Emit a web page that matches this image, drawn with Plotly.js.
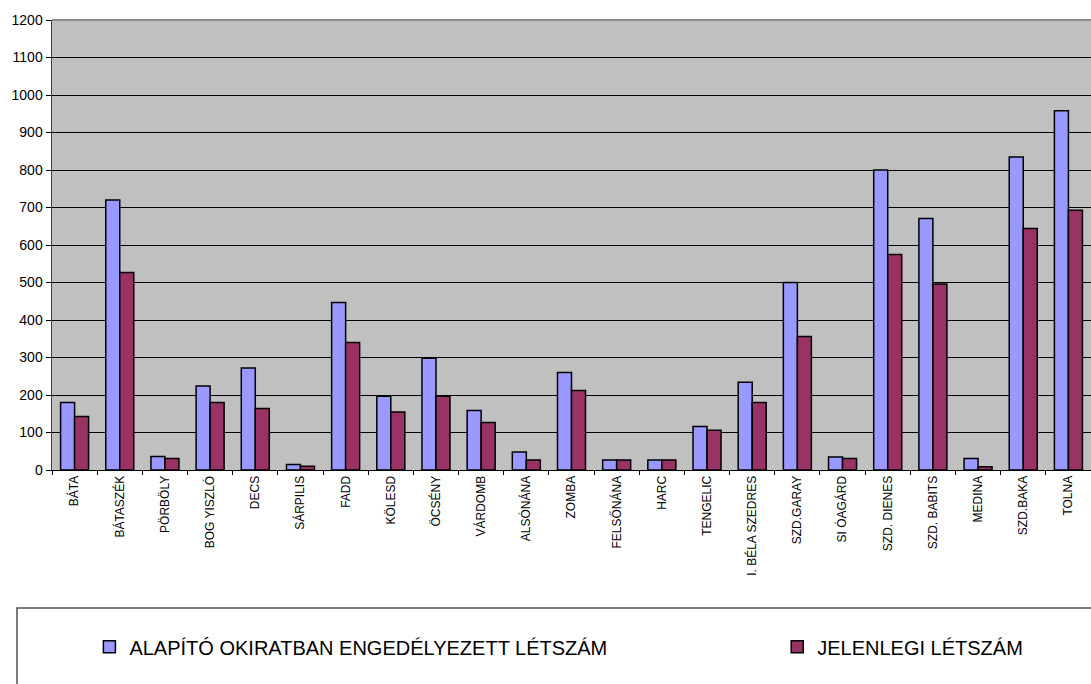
<!DOCTYPE html>
<html>
<head>
<meta charset="utf-8">
<script src="https://cdn.plot.ly/plotly-3.0.1.min.js"></script>
<style>
  html, body { margin: 0; padding: 0; background: #ffffff; }
  #chart { width: 1091px; height: 684px; }
</style>
</head>
<body>
<div id="chart"></div>
<script>
// Category labels (as printed on the chart)
const tickLabels = [
  "BÁTA", "BÁTASZÉK", "PÖRBÖLY", "BOG YISZLÓ", "DECS", "SÁRPILIS", "FADD",
  "KÖLESD", "ÖCSÉNY", "VÁRDOMB", "ALSÓNÁNA", "ZOMBA", "FELSŐNÁNA", "HARC",
  "TENGELIC", "I. BÉLA SZEDRES", "SZD.GARAY", "SI ÓAGÁRD", "SZD. DIENES",
  "SZD. BABITS", "MEDINA", "SZD.BAKA", "TOLNA"
];

const seriesNames = ["ALAPÍTÓ OKIRATBAN ENGEDÉLYEZETT LÉTSZÁM", "JELENLEGI LÉTSZÁM"];

// Series values
const alapitoValues = [180, 720, 36, 224, 272, 15, 447, 197, 298, 159, 48, 260, 27, 27,
  116, 234, 500, 35, 800, 671, 31, 835, 958];
const jelenlegiValues = [143, 527, 31, 180, 164, 10, 340, 155, 197, 127, 27, 212, 27, 27,
  106, 180, 356, 31, 575, 496, 9, 644, 693];

const yTicks = [0, 100, 200, 300, 400, 500, 600, 700, 800, 900, 1000, 1100, 1200];

const FONT = "'Liberation Sans', Arial, sans-serif";

const traces = [
  {
    type: "bar",
    name: seriesNames[0],
    x: tickLabels,
    y: alapitoValues,
    legend: "legend",
    marker: { color: "#9999FF", line: { color: "#000000", width: 1.5 } },
    hoverinfo: "x+y"
  },
  {
    type: "bar",
    name: seriesNames[1],
    x: tickLabels,
    y: jelenlegiValues,
    legend: "legend2",
    marker: { color: "#993366", line: { color: "#000000", width: 1.5 } },
    hoverinfo: "x+y"
  }
];

const legendCommon = {
  orientation: "h",
  xanchor: "left",
  y: -0.393,
  yanchor: "middle",
  bgcolor: "rgba(0,0,0,0)",
  borderwidth: 0,
  font: { family: FONT, size: 20, color: "#000000" }
};

const layout = {
  width: 1091,
  height: 684,
  margin: { l: 52, r: 0, t: 20, b: 214, autoexpand: false },
  paper_bgcolor: "#ffffff",
  plot_bgcolor: "#C0C0C0",
  font: { family: FONT, color: "#000000", size: 12 },
  barmode: "group",
  bargap: 0.38,
  bargroupgap: 0,
  showlegend: true,
  xaxis: {
    type: "category",
    categoryorder: "array",
    categoryarray: tickLabels,
    range: [-0.5, tickLabels.length - 0.5],
    tickangle: -90,
    tickfont: { family: FONT, size: 12, color: "#000000" },
    ticks: "outside",
    tickson: "boundaries",
    ticklen: 4,
    tickcolor: "#000000",
    tickwidth: 1,
    showgrid: false,
    showline: true,
    linecolor: "#000000",
    linewidth: 1,
    zeroline: false,
    fixedrange: true
  },
  yaxis: {
    range: [0, 1200],
    tickvals: yTicks,
    ticktext: yTicks.map(String),
    tickfont: { family: FONT, size: 14, color: "#000000" },
    ticks: "outside",
    ticklen: 5,
    tickcolor: "#000000",
    showgrid: true,
    gridcolor: "#000000",
    gridwidth: 1,
    showline: true,
    linecolor: "#404040",
    linewidth: 1.5,
    zeroline: false,
    fixedrange: true
  },
  legend: Object.assign({}, legendCommon, { x: 0.036 }),
  legend2: Object.assign({}, legendCommon, { x: 0.698 }),
  shapes: [
    // top border of the plot area
    { type: "line", xref: "paper", yref: "paper", x0: 0, x1: 1, y0: 1, y1: 1,
      line: { color: "#8c8c8c", width: 2 } },
    // legend frame (extends past the right and bottom edges)
    { type: "rect", xref: "paper", yref: "paper",
      x0: -0.0337, x1: 1.02, y0: -0.3067, y1: -0.53,
      line: { color: "#505050", width: 1.5 }, fillcolor: "rgba(0,0,0,0)" }
  ]
};

Plotly.newPlot("chart", traces, layout, { displayModeBar: false, staticPlot: true });
</script>
</body>
</html>
